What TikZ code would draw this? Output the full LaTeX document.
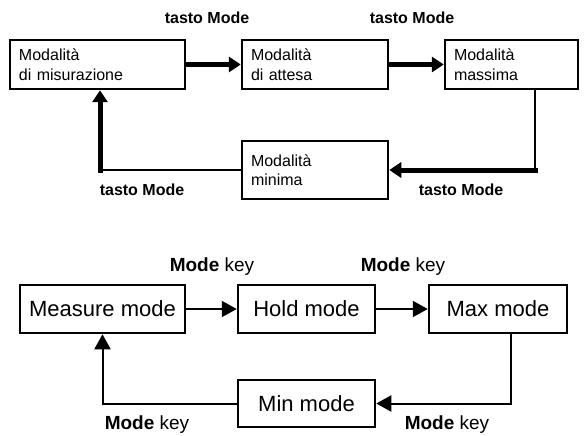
\documentclass[tikz,border=0pt]{standalone}
\usepackage{fontspec}
\setmainfont{Liberation Sans}
\usetikzlibrary{arrows.meta,positioning}

\begin{document}
\begin{tikzpicture}[
        x=1pt, y=-1pt,
        every node/.style={align=center},
        itbox/.style={draw, line width=2.5pt, inner xsep=9pt, inner ysep=0pt, align=left, font=\fontsize{16}{19.5}\selectfont},
        enbox/.style={draw, line width=2.5pt, inner sep=0pt, minimum height=48pt, font=\fontsize{22}{26}\selectfont},
        itlabel/.style={font=\fontsize{16}{19}\selectfont\bfseries},
        enlabel/.style={font=\fontsize{19}{22}\selectfont},
        heavy/.style={line width=5pt, line cap=rect, -{Triangle[length=12pt,width=15pt]}},
        light/.style={line width=2.2pt},
        enarrow/.style={line width=2pt, -{Triangle[length=15pt,width=16pt]}}
    ]
    \useasboundingbox (0,0) rectangle (587,436);

    % Nodes (Italian)
    \node[itbox, text width=157pt, minimum height=49pt] (mis) at (97.5,64.5) {Modalità\\di misurazione};
    \node[itbox, text width=128pt, minimum height=49pt] (att) at (315,64.5) {Modalità\\di attesa};
    \node[itbox, text width=115pt, minimum height=49pt] (mas) at (511.5,64.5) {Modalità\\massima};
    \node[itbox, text width=128pt, minimum height=58pt] (min) at (315,170) {Modalità\\minima};

    \coordinate (cornerR) at (535,170);
    \coordinate (cornerL) at (100,170);

    \node[itlabel] (tk1) at (207,18) {tasto Mode};
    \node[itlabel] (tk2) at (412,18) {tasto Mode};
    \node[itlabel] (tk3) at (142,190) {tasto Mode};
    \node[itlabel] (tk4) at (461,190) {tasto Mode};

    % Edges (Italian)
    \draw[heavy] (mis.east) -- (att.west);
    \draw[heavy] (att.east) -- (mas.west);
    \draw[light] (mas.south -| cornerR) -- (cornerR);
    \draw[heavy] (cornerR) -- (min.east);
    \draw[light] (min.west) -- (cornerL);
    \draw[heavy] (cornerL) -- (mis.south -| cornerL);

    % Nodes (English)
    \node[enbox, minimum width=165pt] (measure) at (102.5,309) {Measure mode};
    \node[enbox, minimum width=137pt] (hold) at (306.5,309) {Hold mode};
    \node[enbox, minimum width=138pt] (max) at (498,309) {Max mode};
    \node[enbox, minimum width=137pt, minimum height=47pt] (minb) at (306.5,403.5) {Min mode};

    \node[enlabel] (mk1) at (212,267) {\textbf{Mode} key};
    \node[enlabel] (mk2) at (403,267) {\textbf{Mode} key};
    \node[enlabel] (mk3) at (147,425) {\textbf{Mode} key};
    \node[enlabel] (mk4) at (447,425) {\textbf{Mode} key};

    % Edges (English)
    \draw[enarrow] (measure.east) -- (hold.west);
    \draw[enarrow] (hold.east) -- (max.west);
    \draw[enarrow] ([xshift=13pt]max.south) |- (minb.east);
    \draw[enarrow] (minb.west) -| (measure.south);

\end{tikzpicture}
\end{document}
